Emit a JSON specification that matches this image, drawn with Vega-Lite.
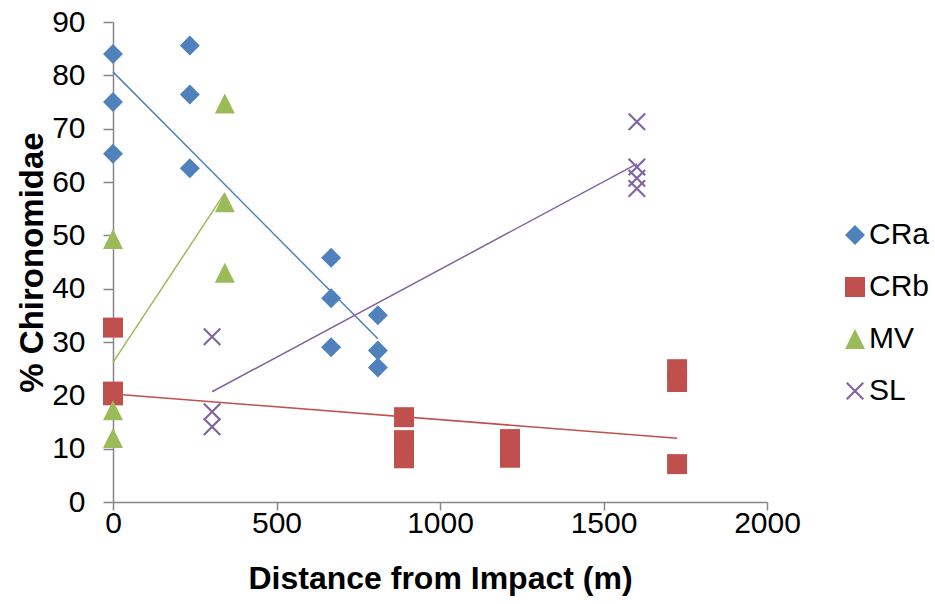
{
  "$schema": "https://vega.github.io/schema/vega-lite/v6.json",
  "width": 654,
  "height": 480,
  "autosize": "none",
  "padding": {"left": 113, "top": 22, "right": 168, "bottom": 102},
  "background": "white",
  "config": {
    "view": {"stroke": null},
    "font": "Liberation Sans",
    "axis": {
      "grid": false,
      "domainColor": "#868686",
      "domainWidth": 1.5,
      "tickColor": "#868686",
      "tickWidth": 1.5,
      "tickSize": 10,
      "labelFont": "Liberation Sans",
      "labelFontSize": 30,
      "labelColor": "#000000",
      "titleFont": "Liberation Sans",
      "titleFontSize": 32,
      "titleFontWeight": "bold",
      "titleColor": "#000000"
    },
    "legend": {
      "labelFont": "Liberation Sans",
      "labelFontSize": 30,
      "labelColor": "#000000"
    }
  },
  "data": {
    "values": [
      {"series": "CRa", "dist": 0, "pct": 84.0},
      {"series": "CRa", "dist": 0, "pct": 75.0},
      {"series": "CRa", "dist": 0, "pct": 65.3},
      {"series": "CRa", "dist": 235, "pct": 85.6},
      {"series": "CRa", "dist": 235, "pct": 76.4},
      {"series": "CRa", "dist": 235, "pct": 62.6},
      {"series": "CRa", "dist": 667, "pct": 45.8},
      {"series": "CRa", "dist": 667, "pct": 38.2},
      {"series": "CRa", "dist": 667, "pct": 29.0},
      {"series": "CRa", "dist": 810, "pct": 35.0},
      {"series": "CRa", "dist": 810, "pct": 28.4},
      {"series": "CRa", "dist": 810, "pct": 25.2},
      {"series": "CRb", "dist": 0, "pct": 32.7},
      {"series": "CRb", "dist": 0, "pct": 20.7},
      {"series": "CRb", "dist": 0, "pct": 20.0},
      {"series": "CRb", "dist": 890, "pct": 15.9},
      {"series": "CRb", "dist": 890, "pct": 11.6},
      {"series": "CRb", "dist": 890, "pct": 9.9},
      {"series": "CRb", "dist": 890, "pct": 8.2},
      {"series": "CRb", "dist": 1214, "pct": 11.8},
      {"series": "CRb", "dist": 1214, "pct": 10.1},
      {"series": "CRb", "dist": 1214, "pct": 8.3},
      {"series": "CRb", "dist": 1725, "pct": 24.9},
      {"series": "CRb", "dist": 1725, "pct": 22.5},
      {"series": "CRb", "dist": 1725, "pct": 7.1},
      {"series": "MV", "dist": 0, "pct": 49.3},
      {"series": "MV", "dist": 0, "pct": 17.2},
      {"series": "MV", "dist": 0, "pct": 12.0},
      {"series": "MV", "dist": 342, "pct": 74.7},
      {"series": "MV", "dist": 342, "pct": 56.2},
      {"series": "MV", "dist": 342, "pct": 43.0},
      {"series": "SL", "dist": 303, "pct": 31.0},
      {"series": "SL", "dist": 303, "pct": 16.9},
      {"series": "SL", "dist": 303, "pct": 14.1},
      {"series": "SL", "dist": 1602, "pct": 71.3},
      {"series": "SL", "dist": 1602, "pct": 62.8},
      {"series": "SL", "dist": 1602, "pct": 60.7},
      {"series": "SL", "dist": 1602, "pct": 58.8}
    ]
  },
  "layer": [
    {
      "transform": [
        {"filter": "datum.series === 'CRa'"},
        {"regression": "pct", "on": "dist"}
      ],
      "mark": {"type": "line", "strokeWidth": 1.5, "color": "#4F81BD"},
      "encoding": {
        "x": {"field": "dist", "type": "quantitative"},
        "y": {"field": "pct", "type": "quantitative"}
      }
    },
    {
      "transform": [
        {"filter": "datum.series === 'CRb'"},
        {"regression": "pct", "on": "dist"}
      ],
      "mark": {"type": "line", "strokeWidth": 1.5, "color": "#C0504D"},
      "encoding": {
        "x": {"field": "dist", "type": "quantitative"},
        "y": {"field": "pct", "type": "quantitative"}
      }
    },
    {
      "transform": [
        {"filter": "datum.series === 'MV'"},
        {"regression": "pct", "on": "dist"}
      ],
      "mark": {"type": "line", "strokeWidth": 1.5, "color": "#9BBB59"},
      "encoding": {
        "x": {"field": "dist", "type": "quantitative"},
        "y": {"field": "pct", "type": "quantitative"}
      }
    },
    {
      "transform": [
        {"filter": "datum.series === 'SL'"},
        {"regression": "pct", "on": "dist"}
      ],
      "mark": {"type": "line", "strokeWidth": 1.5, "color": "#8064A2"},
      "encoding": {
        "x": {"field": "dist", "type": "quantitative"},
        "y": {"field": "pct", "type": "quantitative"}
      }
    },
    {
      "mark": {"type": "point", "filled": true, "opacity": 1, "size": 400},
      "encoding": {
        "x": {
          "field": "dist",
          "type": "quantitative",
          "scale": {"domain": [0, 2000], "nice": false, "zero": false},
          "axis": {"values": [0, 500, 1000, 1500, 2000], "format": "d", "labelFlush": false, "tickSize": 8, "title": "Distance from Impact (m)", "labelPadding": -2, "titlePadding": 25}
        },
        "y": {
          "field": "pct",
          "type": "quantitative",
          "scale": {"domain": [0, 90], "nice": false},
          "axis": {"values": [0, 10, 20, 30, 40, 50, 60, 70, 80, 90], "title": "% Chironomidae", "titleFontSize": 33, "labelPadding": 18, "titlePadding": 2}
        },
        "color": {
          "field": "series",
          "type": "nominal",
          "scale": {"domain": ["CRa", "CRb", "MV", "SL"], "range": ["#4F81BD", "#C0504D", "#9BBB59", "#8064A2"]},
          "legend": {"title": null, "orient": "none", "legendX": 727, "legendY": 198, "symbolSize": 400, "rowPadding": 22, "labelOffset": -1, "padding": 0}
        },
        "shape": {
          "field": "series",
          "type": "nominal",
          "scale": {
            "domain": ["CRa", "CRb", "MV", "SL"],
            "range": ["diamond", "square", "M0,-1L1,1L-1,1Z", "M-0.9,-0.75L-0.75,-0.9L0.9,0.75L0.75,0.9ZM-0.9,0.75L0.75,-0.9L0.9,-0.75L-0.75,0.9Z"]
          },
          "legend": {"title": null, "orient": "none", "legendX": 727, "legendY": 198, "symbolSize": 400, "rowPadding": 22, "labelOffset": -1, "padding": 0}
        }
      }
    }
  ]
}
